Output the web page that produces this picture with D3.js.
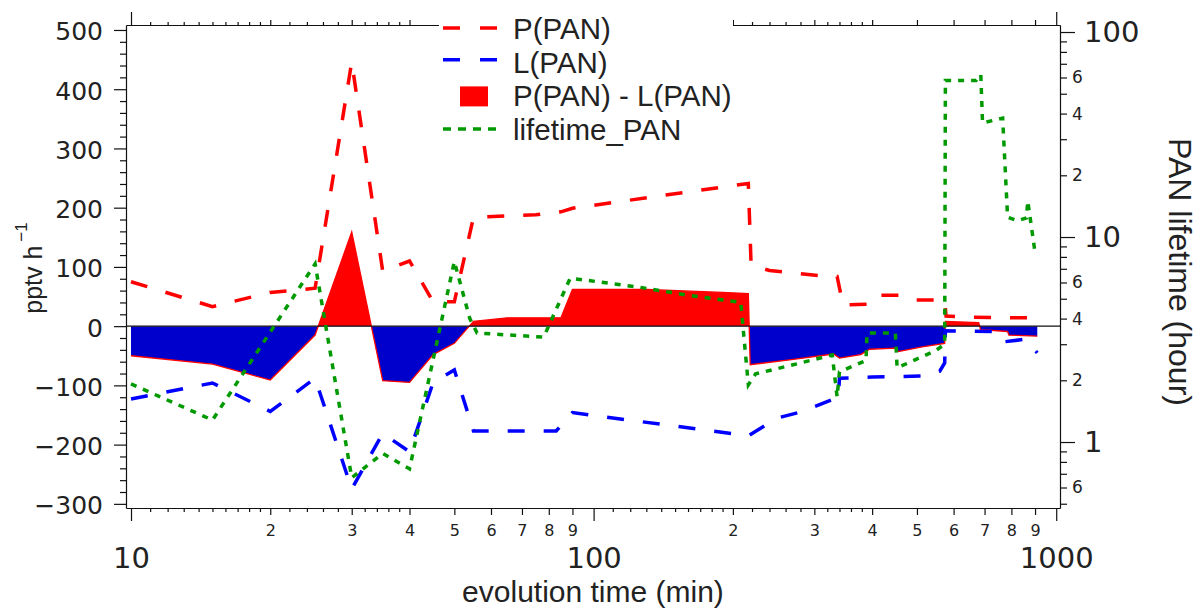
<!DOCTYPE html>
<html>
<head>
<meta charset="utf-8">
<script src="https://cdnjs.cloudflare.com/ajax/libs/d3/7.8.5/d3.min.js"></script>
<style>
    body { margin: 0; background: #ffffff; }
    svg { display: block; font-family: "Liberation Sans", Arial, sans-serif; }
</style>
</head>
<body>
<script>
//wrap everything in a self-executing anonymous function to move to local scope
(function(){

    //P(PAN) production rate (pptv h-1) vs evolution time (min)
    var prodTime = [10, 15, 20, 25, 30, 35, 40, 45, 50, 55, 75, 85, 90, 216, 219, 240, 310, 336, 346, 395, 410, 456, 490, 574, 578, 640, 910];
    var prodRate = [75, 33, 57, 64, 446, 93, 110, 41, 41, 184, 188, 193, 199, 241, 103, 94, 85, 84, 36, 37, 52, 52, 44, 44, 17, 15, 14];

    //L(PAN) loss rate (pptv h-1), plotted negative
    var lossTime = [10, 15, 20, 25, 30, 35, 40, 45, 50, 55, 83, 90, 216, 250, 280, 338, 340, 400, 520, 560, 574, 576, 730, 760, 860, 910];
    var lossRate = [-123, -96, -144, -88, -275, -181, -212, -95, -74, -177, -177, -146, -185, -155, -145, -120, -88, -86, -84, -76, -62, -8, -9, -27, -22, -45];

    //P(PAN) - L(PAN) net rate (pptv h-1)
    var netTime = [10, 15, 20, 25, 30, 35, 40, 45, 50, 55, 65, 85, 90, 130, 190, 216, 218, 265, 330, 340, 378, 395, 449, 456, 513, 574, 576, 680, 686, 785, 790, 910];
    var netRate = [-50, -64, -91, -15, 159, -92, -95, -48, -29, 8, 14, 14, 62, 62, 57, 55, -65, -57, -47, -54, -48, -39, -37, -43, -35, -29, 8, 6, -6, -9, -15, -17];

    //PAN lifetime (hour), right axis
    var lifeTime = [10, 15, 25, 30, 35, 40, 50, 54, 56, 78, 89, 125, 160, 208, 216, 224, 278, 328, 336, 340, 388, 390, 449, 453, 550, 574, 576, 671, 687, 693, 766, 785, 825, 862, 868, 900];
    var lifeHours = [1.92, 1.28, 7.4, 0.67, 0.88, 0.74, 7.6, 4.0, 3.4, 3.25, 6.3, 5.7, 5.2, 4.8, 1.9, 2.15, 2.42, 2.66, 1.66, 2.2, 2.5, 3.4, 3.4, 2.3, 2.8, 3.0, 58, 58, 62, 36, 38, 12.5, 12, 12.4, 15, 8.4];

    //tick values
    var xMajorTicks = [10, 100, 1000];
    var xMinorTicks = [20, 30, 40, 50, 60, 70, 80, 90, 200, 300, 400, 500, 600, 700, 800, 900];
    var xSmallTicks = [11, 12, 13, 14, 15, 16, 17, 18, 19, 22, 24, 26, 28, 32, 34, 36, 38,
                       110, 120, 130, 140, 150, 160, 170, 180, 190, 220, 240, 260, 280, 320, 340, 360, 380];
    var leftTicks = [-300, -200, -100, 0, 100, 200, 300, 400, 500];
    var rightMajorTicks = [1, 10, 100];
    var rightMinorTicks = [0.5, 0.6, 0.7, 0.8, 0.9, 2, 3, 4, 5, 6, 7, 8, 9, 20, 30, 40, 50, 60, 70, 80, 90];
    var rightMinorLabels = [0.6, 2, 4, 6, 20, 40, 60];

    var legendLabels = ["P(PAN)", "L(PAN)", "P(PAN) - L(PAN)", "lifetime_PAN"];

    //colours
    var red = "#ff0000",
        blue = "#0000ff",
        darkBlue = "#0000cc",
        green = "#009a00";

    window.onload = setChart();

    function setChart(){
        var width = 1200,
            height = 610,
            left = 126,
            right = 1060,
            top = 25,
            bottom = 508;

        var svg = d3.select("body")
            .append("svg")
            .attr("width", width)
            .attr("height", height);

        //scales
        var x = d3.scaleLog()
            .domain([9.754, 1019])
            .range([left, right]);

        var yL = d3.scaleLinear()
            .domain([-307, 508.4])
            .range([bottom, top]);

        var yR = d3.scaleLog()
            .domain([0.4766, 108.2])
            .range([bottom, top]);

        var y0 = yL(0);

        //clip rects splitting the net area at zero
        var defs = svg.append("defs");
        defs.append("clipPath").attr("id", "clipAbove")
            .append("rect")
            .attr("x", left).attr("y", top)
            .attr("width", right - left).attr("height", y0 - top);
        defs.append("clipPath").attr("id", "clipBelow")
            .append("rect")
            .attr("x", left).attr("y", y0)
            .attr("width", right - left).attr("height", bottom - y0);

        var netArea = d3.area()
            .x(function(d, i){ return x(netTime[i]); })
            .y0(y0)
            .y1(function(d){ return yL(d); });

        svg.append("path")
            .datum(netRate)
            .attr("d", netArea)
            .attr("fill", red)
            .attr("clip-path", "url(#clipAbove)");

        svg.append("path")
            .datum(netRate)
            .attr("d", netArea)
            .attr("fill", darkBlue)
            .attr("clip-path", "url(#clipBelow)");

        //red outline of the net curve
        svg.append("path")
            .datum(netRate)
            .attr("d", d3.line()
                .x(function(d, i){ return x(netTime[i]); })
                .y(function(d){ return yL(d); }))
            .attr("fill", "none")
            .attr("stroke", red)
            .attr("stroke-width", 1.3);

        //zero line
        svg.append("line")
            .attr("x1", left).attr("x2", right)
            .attr("y1", y0).attr("y2", y0)
            .attr("stroke", "#111")
            .attr("stroke-width", 1.2);

        //P(PAN)
        svg.append("path")
            .datum(prodRate)
            .attr("d", d3.line()
                .x(function(d, i){ return x(prodTime[i]); })
                .y(function(d){ return yL(d); }))
            .attr("fill", "none")
            .attr("stroke", red)
            .attr("stroke-width", 3.5)
            .attr("stroke-dasharray", "17,19");

        //L(PAN)
        svg.append("path")
            .datum(lossRate)
            .attr("d", d3.line()
                .x(function(d, i){ return x(lossTime[i]); })
                .y(function(d){ return yL(d); }))
            .attr("fill", "none")
            .attr("stroke", blue)
            .attr("stroke-width", 3.5)
            .attr("stroke-dasharray", "17,19");

        //lifetime on right axis
        svg.append("path")
            .datum(lifeHours)
            .attr("d", d3.line()
                .x(function(d, i){ return x(lifeTime[i]); })
                .y(function(d){ return yR(d); }))
            .attr("fill", "none")
            .attr("stroke", green)
            .attr("stroke-width", 3.5)
            .attr("stroke-dasharray", "6,7");

        setAxes(svg, x, yL, yR, left, right, top, bottom);
        setLegend(svg);
        setTitles(svg, left, right);
    };

    //style one axis group
    function styleAxis(g, fontFamily, fontSize, keepDomain){
        g.attr("color", "#111")
            .attr("font-family", fontFamily)
            .attr("font-size", fontSize);
        g.selectAll("line").attr("stroke-width", 1.2);
        g.selectAll("text").attr("fill", "#222");
        if (keepDomain){
            g.select(".domain").attr("stroke-width", 1.2);
        } else {
            g.select(".domain").remove();
        };
        return g;
    };

    function setAxes(svg, x, yL, yR, left, right, top, bottom){
        var num = "DejaVu Sans, sans-serif";
        var digit = function(d){ return String(d).replace("0.", "").charAt(0); };

        //bottom axis
        styleAxis(svg.append("g").attr("transform", "translate(0," + bottom + ")")
            .call(d3.axisBottom(x).tickValues(xSmallTicks).tickSize(4).tickSizeOuter(0).tickFormat("")), num, 16, false);
        styleAxis(svg.append("g").attr("transform", "translate(0," + bottom + ")")
            .call(d3.axisBottom(x).tickValues(xMinorTicks).tickSize(7).tickPadding(10).tickSizeOuter(0).tickFormat(digit)), num, 16, false);
        styleAxis(svg.append("g").attr("transform", "translate(0," + bottom + ")")
            .call(d3.axisBottom(x).tickValues(xMajorTicks).tickSize(13).tickPadding(26).tickSizeOuter(0).tickFormat(d3.format("d"))), num, 29, true);

        //top axis, no labels
        styleAxis(svg.append("g").attr("transform", "translate(0," + top + ")")
            .call(d3.axisTop(x).tickValues(xSmallTicks).tickSize(3).tickSizeOuter(0).tickFormat("")), num, 16, false);
        styleAxis(svg.append("g").attr("transform", "translate(0," + top + ")")
            .call(d3.axisTop(x).tickValues(xMinorTicks).tickSize(5).tickSizeOuter(0).tickFormat("")), num, 16, false);
        styleAxis(svg.append("g").attr("transform", "translate(0," + top + ")")
            .call(d3.axisTop(x).tickValues(xMajorTicks).tickSize(13).tickSizeOuter(0).tickFormat("")), num, 16, true);

        //left axis
        var leftMinor = d3.range(-300, 501, 20).filter(function(d){ return d % 100 !== 0; });
        styleAxis(svg.append("g").attr("transform", "translate(" + left + ",0)")
            .call(d3.axisLeft(yL).tickValues(leftMinor).tickSize(6).tickSizeOuter(0).tickFormat("")), num, 25, false);
        var leftAxis = styleAxis(svg.append("g").attr("transform", "translate(" + left + ",0)")
            .call(d3.axisLeft(yL).tickValues(leftTicks).tickSize(12).tickPadding(11).tickSizeOuter(0).tickFormat(d3.format("d"))), num, 25, true);
        leftAxis.selectAll("text").attr("dy", "0.4em");

        //right axis
        styleAxis(svg.append("g").attr("transform", "translate(" + right + ",0)")
            .call(d3.axisRight(yR).tickValues(rightMinorTicks).tickSize(7).tickPadding(5).tickSizeOuter(0)
                .tickFormat(function(d){ return rightMinorLabels.indexOf(d) >= 0 ? digit(d) : ""; })), num, 17, false);
        styleAxis(svg.append("g").attr("transform", "translate(" + right + ",0)")
            .call(d3.axisRight(yR).tickValues(rightMajorTicks).tickSize(15).tickPadding(9).tickSizeOuter(0).tickFormat(d3.format("d"))), num, 29, true);
    };

    function setLegend(svg){
        var legend = svg.append("g").attr("class", "legend");

        //white box hiding the top axis behind the legend
        legend.append("rect")
            .attr("x", 439).attr("y", 0)
            .attr("width", 294).attr("height", 148)
            .attr("fill", "#ffffff");

        var rowY = function(i){ return 39 + i * 33.7; };

        legend.append("line")
            .attr("x1", 443).attr("x2", 500)
            .attr("y1", rowY(0) - 11).attr("y2", rowY(0) - 11)
            .attr("stroke", red).attr("stroke-width", 3.5).attr("stroke-dasharray", "17,20");
        legend.append("line")
            .attr("x1", 443).attr("x2", 500)
            .attr("y1", rowY(1) - 13).attr("y2", rowY(1) - 13)
            .attr("stroke", blue).attr("stroke-width", 3.5).attr("stroke-dasharray", "17,20");
        legend.append("rect")
            .attr("x", 460).attr("y", rowY(2) - 20)
            .attr("width", 28).attr("height", 20)
            .attr("fill", red);
        legend.append("line")
            .attr("x1", 443).attr("x2", 498)
            .attr("y1", rowY(3) - 11).attr("y2", rowY(3) - 11)
            .attr("stroke", green).attr("stroke-width", 3.5).attr("stroke-dasharray", "8,7");

        legend.selectAll(".legendText")
            .data(legendLabels)
            .enter()
            .append("text")
            .attr("class", "legendText")
            .attr("x", 513)
            .attr("y", function(d, i){ return rowY(i); })
            .attr("font-size", 29.5)
            .attr("fill", "#222")
            .text(function(d){ return d; });
    };

    function setTitles(svg, left, right){
        //x axis title
        svg.append("text")
            .attr("x", (left + right) / 2)
            .attr("y", 602)
            .attr("text-anchor", "middle")
            .attr("font-size", 30)
            .attr("fill", "#222")
            .text("evolution time (min)");

        //left axis title with superscript
        var leftTitle = svg.append("text")
            .attr("transform", "translate(42,268) rotate(-90)")
            .attr("text-anchor", "middle")
            .attr("font-size", 25)
            .attr("fill", "#222");
        leftTitle.append("tspan").text("pptv h");
        leftTitle.append("tspan")
            .attr("dx", 4)
            .attr("dy", -15)
            .attr("font-size", 17)
            .text("\u22121");

        //right axis title
        svg.append("text")
            .attr("transform", "translate(1169,272) rotate(90)")
            .attr("text-anchor", "middle")
            .attr("font-size", 32)
            .attr("fill", "#222")
            .text("PAN lifetime (hour)");
    };

})();
</script>
</body>
</html>
